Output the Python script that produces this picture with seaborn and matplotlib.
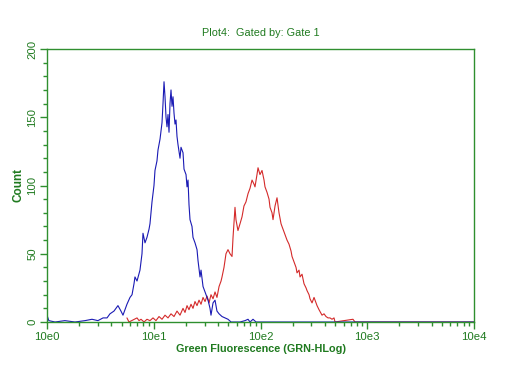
import numpy as np
import pandas as pd
import seaborn as sns
import matplotlib
matplotlib.use("Agg")
import matplotlib.pyplot as plt
from matplotlib.ticker import FixedLocator, LogLocator, NullFormatter

# fluorescence channel (GRN-HLog) and counts
blue_x = [1.00, 1.04, 1.19, 1.47, 1.83, 2.27, 2.64, 3.00, 3.35, 3.65, 3.89, 4.24,
          4.62, 4.93, 5.15, 5.61, 5.99, 6.26, 6.53, 6.67, 6.97, 7.43, 7.76, 7.93,
          8.28, 8.64, 9.03, 9.22, 9.63, 10.05, 10.27, 10.72, 10.96, 11.45, 11.95,
          12.21, 12.48, 12.75, 13.03, 13.31, 13.60, 13.90, 14.20, 14.51, 14.83,
          15.15, 15.48, 15.82, 16.16, 16.51, 16.87, 17.62, 18.00, 18.80, 19.21,
          20.06, 20.50, 20.94, 21.39, 21.86, 22.82, 23.32, 24.35, 25.43, 25.98,
          27.13, 27.72, 28.95, 30.23, 31.56, 32.25, 33.65, 34.38, 35.92, 37.5,
          39.1, 40.9, 43.6, 46.5, 49.6, 53.0, 64.3, 71.6, 76.4, 79.8, 85.1, 90.8,
          103, 234, 10000]
blue_count = [5, 1, 0, 1, 0, 1, 2, 1, 3, 3, 6, 8,
              12, 8, 5, 13, 18, 20, 28, 33, 30, 38, 50, 65,
              58, 62, 68, 72, 88, 100, 111, 118, 126, 134, 146,
              160, 176, 165, 150, 143, 152, 139, 160, 170, 158,
              165, 153, 145, 148, 136, 130, 120, 128, 124, 112,
              108, 99, 104, 86, 75, 70, 62, 58, 53, 45,
              33, 38, 26, 22, 18, 16, 10, 5, 14, 16,
              8, 6, 4, 3, 2, 0, 0, 1, 2, 0, 2, 0,
              0, 0, 0]

red_x = [5.61, 5.86, 6.97, 7.28, 7.60, 8.11, 8.64, 9.22, 9.84, 10.49, 11.20, 11.95,
         12.75, 13.60, 14.51, 15.48, 16.51, 17.62, 18.80, 19.63, 20.50, 21.39,
         22.34, 23.32, 24.35, 25.43, 26.55, 27.72, 28.95, 30.23, 31.56, 32.95,
         34.38, 35.92, 37.5, 39.1, 40.9, 42.7, 43.6, 45.5, 46.5, 47.5, 49.6, 51.8,
         54.1, 55.3, 57.7, 58.9, 61.5, 64.3, 67.1, 70.0, 73.1, 76.4, 79.8, 83.3,
         86.9, 88.8, 92.7, 94.8, 98.9, 103.3, 107.9, 110.2, 115.1, 120.2, 122.8,
         128.2, 131.0, 136.8, 142.8, 149.1, 155.7, 159.0, 166.1, 173.4, 177.2,
         185.0, 193.2, 197.4, 206.1, 215.2, 219.9, 229.6, 234.6, 244.9, 255.7,
         267.0, 272.8, 284.9, 291.0, 303.9, 317.3, 331.3, 338.5, 353.4, 376.9,
         393.6, 410.9, 429.0, 448.0, 467.7, 488.3, 498.9, 735, 768, 10000]
red_count = [3, 0, 3, 1, 2, 0, 2, 1, 3, 1, 4, 2,
             5, 3, 6, 4, 8, 5, 10, 7, 12, 9,
             13, 10, 15, 12, 16, 13, 18, 15, 19, 14,
             20, 17, 22, 18, 26, 30, 33, 40, 45, 50, 53, 50,
             48, 62, 84, 75, 67, 72, 77, 85, 88, 94, 98, 104,
             101, 99, 108, 113, 108, 111, 104, 99, 95, 90, 84,
             80, 75, 85, 91, 80, 72, 70, 66, 62, 60,
             57, 52, 48, 44, 40, 36, 38, 33, 35, 28,
             25, 23, 20, 17, 14, 18, 14, 12, 9, 5,
             6, 4, 3, 3, 2, 3, 0, 2, 0, 0]

x_ticks = [1, 10, 100, 1000, 10000]
x_ticklabels = ["10e0", "10e1", "10e2", "10e3", "10e4"]
y_ticks = [0, 50, 100, 150, 200]

green = "#2f8f2f"
text_green = "#1f7a1f"

sns.set_style("white")
plt.rcParams["font.family"] = ["Liberation Sans", "DejaVu Sans"]

fig = plt.figure(figsize=(5.12, 3.84), dpi=100)
ax = fig.add_axes([47 / 512, 62 / 384, 427 / 512, 273 / 384])

blue = pd.DataFrame({"x": blue_x, "count": blue_count})
red = pd.DataFrame({"x": red_x, "count": red_count})
sns.lineplot(data=red, x="x", y="count", sort=False, estimator=None,
             color="#d42a2a", lw=0.8, ax=ax)
sns.lineplot(data=blue, x="x", y="count", sort=False, estimator=None,
             color="#1a1ab4", lw=0.8, ax=ax)

ax.set_xscale("log")
ax.set_xlim(1, 10000)
ax.set_ylim(0, 200)

ax.xaxis.set_major_locator(FixedLocator(x_ticks))
ax.set_xticklabels(x_ticklabels)
ax.xaxis.set_minor_locator(LogLocator(base=10, subs=np.arange(2, 10)))
ax.xaxis.set_minor_formatter(NullFormatter())
ax.yaxis.set_major_locator(FixedLocator(y_ticks))
ax.yaxis.set_minor_locator(FixedLocator(list(range(0, 201, 10))))
ax.set_yticklabels([str(v) for v in y_ticks], rotation=90, va="center")

ax.tick_params(which="major", direction="out", length=5, width=1, color=green,
               labelcolor=text_green, labelsize=8.2, bottom=True, left=True, pad=2)
ax.tick_params(which="minor", direction="out", length=3, width=1, color=green,
               bottom=True, left=True)

for s in ax.spines.values():
    s.set_color(green)
    s.set_linewidth(1.0)

ax.set_xlabel("Green Fluorescence (GRN-HLog)", color=text_green,
              fontsize=7.8, fontweight="bold", labelpad=2)
ax.set_ylabel("Count", color=text_green, fontsize=8.5,
              fontweight="bold", labelpad=2)
ax.set_title("Plot4:  Gated by: Gate 1", color=text_green, fontsize=7.8, pad=9)

fig.savefig("out.png", dpi=100)
